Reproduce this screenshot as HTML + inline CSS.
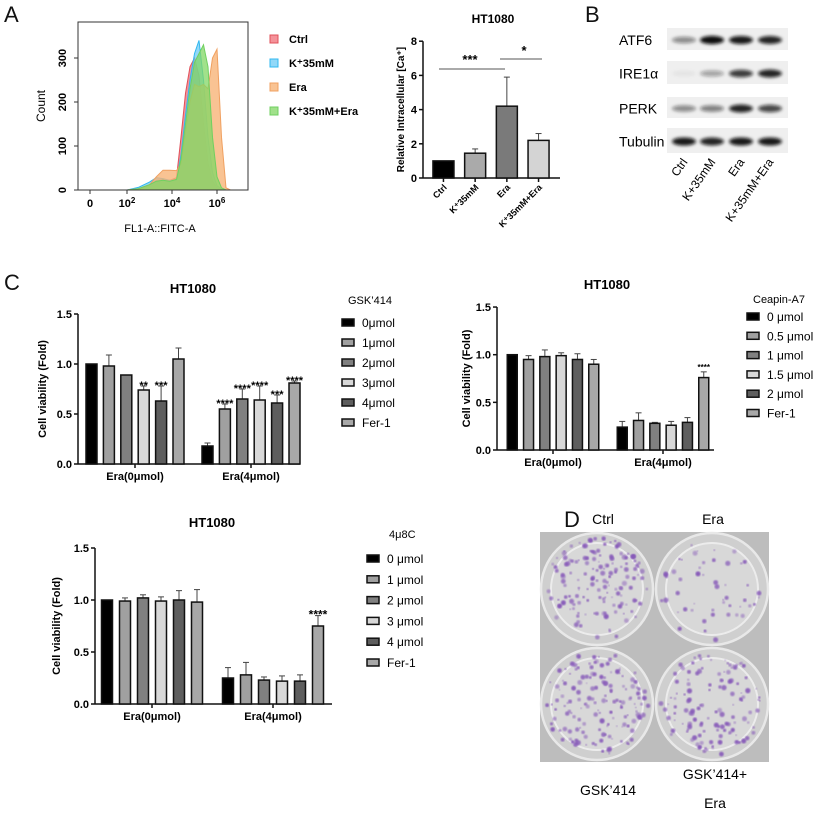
<!DOCTYPE html>
<html><head><meta charset="utf-8"><style>
body{margin:0;background:#fff}
svg{display:block;font-family:"Liberation Sans",Arial,sans-serif}
</style></head><body>
<svg id="fig" width="819" height="817" viewBox="0 0 819 817" xmlns="http://www.w3.org/2000/svg">
<defs>
<filter id="blur1" x="-20%" y="-50%" width="140%" height="200%"><feGaussianBlur stdDeviation="1.6"/></filter>
<filter id="blur2"><feGaussianBlur stdDeviation="0.8"/></filter>
</defs>
<g id="panelLabels" font-size="22" fill="#111">
<text x="4" y="22">A</text>
<text x="585" y="22">B</text>
<text x="4" y="290">C</text>
<text x="564" y="527">D</text>
</g>
<g id="flow"></g>
<g id="caBar"></g>
<g id="blot"></g>
<g id="c1"></g>
<g id="c2"></g>
<g id="c3"></g>
<g id="colony"></g>
</svg>
<script>
// ---- Flow histogram data ----
const flowDecades = [1,2,2.5,3,3.3,3.6,3.9,4.2,4.4,4.6,4.8,5.0,5.2,5.4,5.6,5.8,6.0,6.2,6.4,6.6,7];
const flowCtrl  = [0,0,3,12,22,24,22,28,120,220,280,300,260,150,60,20,5,0,0,0,0];
const flowK35   = [0,0,6,18,28,26,22,22,80,170,250,310,340,250,120,40,10,2,0,0,0];
const flowEra   = [0,0,3,12,30,45,45,44,60,130,200,240,235,240,230,300,320,120,5,0,0];
const flowCombo = [0,0,3,12,20,22,20,24,70,150,230,290,310,330,280,120,30,5,0,0,0];
const flowNames = ["Ctrl","K⁺35mM","Era","K⁺35mM+Era"];
const flowYTicks = [0,100,200,300];

// ---- Calcium bar data ----
const caCats = ["Ctrl","K⁺35mM","Era","K⁺35mM+Era"];
const caVals = [1.0,1.45,4.2,2.2];
const caErr  = [0,0.25,1.7,0.4];
const caTicks = [0,2,4,6,8];

// ---- C charts data ----
const groupLabels = ["Era(0μmol)","Era(4μmol)"];
const c1Legend = ["0μmol","1μmol","2μmol","3μmol","4μmol","Fer-1"];
const c1G0 = [1.0,0.98,0.89,0.74,0.63,1.05];
const c1G0Err = [0,0.11,0,0.04,0.15,0.11];
const c1G1 = [0.18,0.55,0.65,0.64,0.61,0.81];
const c1G1Err = [0.03,0.05,0.1,0.14,0.08,0.02];
const c1G0Stars = ["","","","**","***",""];
const c1G1Stars = ["","****","****","****","***","****"];

const c2Legend = ["0 μmol","0.5 μmol","1 μmol","1.5 μmol","2 μmol","Fer-1"];
const c2G0 = [1.0,0.95,0.98,0.99,0.95,0.9];
const c2G0Err = [0,0.04,0.07,0.03,0.06,0.05];
const c2G1 = [0.24,0.31,0.28,0.26,0.29,0.76];
const c2G1Err = [0.06,0.08,0.01,0.04,0.05,0.06];
const c2G1Stars = ["","","","","","****"];

const c3Legend = ["0 μmol","1 μmol","2 μmol","3 μmol","4 μmol","Fer-1"];
const c3G0 = [1.0,0.99,1.02,0.99,1.0,0.98];
const c3G0Err = [0,0.03,0.03,0.04,0.09,0.12];
const c3G1 = [0.25,0.28,0.23,0.22,0.22,0.75];
const c3G1Err = [0.1,0.12,0.03,0.05,0.06,0.1];
const c3G1Stars = ["","","","","","****"];
const viabTicks = [0.0,0.5,1.0,1.5];

const NS="http://www.w3.org/2000/svg";
function mk(tag, attrs, parent){const e=document.createElementNS(NS,tag);for(const k in attrs)e.setAttribute(k,attrs[k]);if(parent)parent.appendChild(e);return e;}
function txt(parent, x, y, s, attrs){const t=mk('text',Object.assign({x:x,y:y},attrs||{}),parent);t.textContent=s;return t;}

// ===== Flow histogram =====
(function(){
  const g=document.getElementById('flow');
  const X=d=>127+22.5*(d-2), Y=c=>190-c*0.44;
  const box=mk('rect',{x:78,y:22,width:170,height:168,fill:'none',stroke:'#333','stroke-width':1},g);
  
  
  const series=[[flowCtrl,'rgba(240,100,110,0.7)','#e0505a'],[flowK35,'rgba(100,200,245,0.7)','#30b8f0'],[flowEra,'rgba(248,180,120,0.8)','#f0a060'],[flowCombo,'rgba(130,215,100,0.75)','#70d060']];
  series.forEach((s,si)=>{
    let d='M'+X(flowDecades[0])+','+Y(0);
    flowDecades.forEach((v,i)=>{d+=' L'+X(v).toFixed(1)+','+Y(s[0][i]).toFixed(1);});
    d+=' L'+X(flowDecades[flowDecades.length-1])+','+Y(0)+'Z';
    const p=mk('path',{d:d,fill:s[1],stroke:s[2],'stroke-width':1},g);
    
    
  });
  mk('line',{x1:78,y1:190,x2:248,y2:190,stroke:'#333'},g);
  flowYTicks.forEach(v=>{
    mk('line',{x1:74,y1:Y(v),x2:78,y2:Y(v),stroke:'#333'},g);
    const t=txt(g,66,Y(v),String(v),{'font-size':11,'font-weight':'bold','text-anchor':'middle',transform:'rotate(-90 66 '+Y(v)+')'});
    
    
  });
  [[90,'0',''],[127,'10','2'],[172,'10','4'],[217,'10','6']].forEach(a=>{
    mk('line',{x1:a[0],y1:190,x2:a[0],y2:194,stroke:'#333'},g);
    const t=txt(g,a[0],207,a[1],{'font-size':11,'font-weight':'bold','text-anchor':'middle'});
    if(a[2]){const ts=mk('tspan',{'font-size':8,dy:-4},t);ts.textContent=a[2];}
    
    
  });
  const xt=txt(g,160,232,'FL1-A::FITC-A',{'font-size':11,'text-anchor':'middle'});
  
  
  const yt=txt(g,45,106,'Count',{'font-size':12,'text-anchor':'middle',transform:'rotate(-90 45 106)'});
  
  
  flowNames.forEach((n,i)=>{
    const y=41+i*24;
    const r=mk('rect',{x:270,y:y-6,width:8,height:8,fill:series[i][1],stroke:series[i][2]},g);
    
    
    const t=txt(g,289,y+2,n,{'font-size':11,'font-weight':'bold'});
    
    
  });
})();

// ===== Generic bar chart =====
function barChart(cfg){
  const g=document.getElementById(cfg.id);
  const Y=v=>cfg.y0-(v-cfg.vmin)*cfg.scale;
  const yt=txt(g,cfg.titleX,cfg.titleY,'HT1080',{'font-size':cfg.titleSize||13,'font-weight':'bold','text-anchor':'middle'});
  
  
  mk('line',{x1:cfg.ax,y1:Y(cfg.ticks[cfg.ticks.length-1]),x2:cfg.ax,y2:cfg.y0,stroke:'#111','stroke-width':1.5},g);
  mk('line',{x1:cfg.ax,y1:cfg.y0,x2:cfg.axEnd,y2:cfg.y0,stroke:'#111','stroke-width':1.5},g);
  cfg.ticks.forEach(v=>{
    mk('line',{x1:cfg.ax-4,y1:Y(v),x2:cfg.ax,y2:Y(v),stroke:'#111','stroke-width':1.5},g);
    const t=txt(g,cfg.ax-6,Y(v)+4,cfg.tickFmt(v),{'font-size':11,'font-weight':'bold','text-anchor':'end'});
    
    
  });
  const my=(Y(cfg.ticks[cfg.ticks.length-1])+cfg.y0)/2;
  const ya=txt(g,cfg.yTitleX,my,cfg.yTitle,{'font-size':cfg.yTitleSize||11,'font-weight':'bold','text-anchor':'middle',transform:'rotate(-90 '+cfg.yTitleX+' '+my+')'});
  
  
  cfg.groups.forEach((grp,gi)=>{
    grp.vals.forEach((v,i)=>{
      const cx=grp.center+(i-(grp.vals.length-1)/2)*cfg.spacing;
      const top=Y(v), e=grp.err[i];
      if(e>0){
        mk('line',{x1:cx,y1:top,x2:cx,y2:Y(v+e),stroke:'#444','stroke-width':1},g);
        mk('line',{x1:cx-3,y1:Y(v+e),x2:cx+3,y2:Y(v+e),stroke:'#444','stroke-width':1},g);
      }
      const r=mk('rect',{x:cx-cfg.bw/2,y:top,width:cfg.bw,height:cfg.y0-top,fill:cfg.colors[i],stroke:'#111','stroke-width':1.5},g);
      
      
      if(grp.stars && grp.stars[i]){
        const s=txt(g,cx,Y(v+e)-3,grp.stars[i],{'font-size':cfg.starSize||13,'font-weight':'bold','text-anchor':'middle'});
        s.setAttribute('dy',cfg.starDy||6);
        
        
      }
    });
    if(grp.label){
      mk('line',{x1:grp.center,y1:cfg.y0,x2:grp.center,y2:cfg.y0+4,stroke:'#111','stroke-width':1.5},g);
      const t=txt(g,grp.center,cfg.y0+16,grp.label,{'font-size':11,'font-weight':'bold','text-anchor':'middle'});
      
      
    }
  });
  if(cfg.legend){
    const lt=txt(g,cfg.legX+cfg.legTitleDx,cfg.legTitleY,cfg.legTitle,{'font-size':11});
    
    
    cfg.legend.forEach((n,i)=>{
      const y=cfg.legY+i*cfg.legStep;
      const r=mk('rect',{x:cfg.legX,y:y-4,width:12,height:7,fill:cfg.colors[i],stroke:'#111','stroke-width':1.5},g);
      
      
      const t=txt(g,cfg.legX+20,y+4,n,{'font-size':12});
      
      
    });
  }
}
const grays=['#000','#a0a0a0','#808080','#d8d8d8','#5e5e5e','#a8a8a8'];
const fmt1=v=>v.toFixed(1);

// Calcium chart
(function(){
  const g=document.getElementById('caBar');
  const cfg={id:'caBar',titleX:493,titleY:23,titleSize:12,ax:423,axEnd:560,y0:178,vmin:0,scale:17.1,ticks:caTicks,tickFmt:v=>String(v),
    yTitle:'Relative Intracellular [Ca⁺]',yTitleX:404,yTitleSize:10,spacing:31.7,bw:21,colors:['#000','#aaa','#7a7a7a','#d4d4d4'],
    groups:[{center:491,vals:caVals,err:caErr}]};
  barChart(cfg);
  caCats.forEach((c,i)=>{
    const cx=491+(i-1.5)*31.7;
    mk('line',{x1:cx,y1:178,x2:cx,y2:182,stroke:'#111','stroke-width':1.5},g);
    const t=txt(g,cx+4,188,c,{'font-size':9,'font-weight':'bold','text-anchor':'end',transform:'rotate(-45 '+(cx+4)+' 188)'});
    
    
  });
  mk('line',{x1:439,y1:69,x2:505,y2:69,stroke:'#555'},g);
  mk('line',{x1:500,y1:59,x2:542,y2:59,stroke:'#555'},g);
  const s1=txt(g,470,64,'***',{'font-size':13,'font-weight':'bold','text-anchor':'middle'});
  
  
  const s2=txt(g,524,55,'*',{'font-size':13,'font-weight':'bold','text-anchor':'middle'});
  
  
})();

barChart({id:'c1',titleX:193,titleY:293,ax:78,axEnd:300,y0:464,vmin:0,scale:100,ticks:viabTicks,tickFmt:fmt1,yTitle:'Cell viability (Fold)',yTitleX:46,
  spacing:17.4,bw:11,colors:grays,starSize:11,
  groups:[{center:135,vals:c1G0,err:c1G0Err,stars:c1G0Stars,label:groupLabels[0]},{center:251,vals:c1G1,err:c1G1Err,stars:c1G1Stars,label:groupLabels[1]}],
  legend:c1Legend,legTitle:'GSK’414',legTitleDx:6,legTitleY:304,legX:342,legY:323,legStep:20});
barChart({id:'c2',titleX:607,titleY:289,ax:497,axEnd:714,y0:450,vmin:0,scale:95.3,ticks:viabTicks,tickFmt:fmt1,yTitle:'Cell viability (Fold)',yTitleX:470,
  spacing:16.3,bw:10,colors:grays,starSize:8,starDy:1,
  groups:[{center:553,vals:c2G0,err:c2G0Err,label:groupLabels[0]},{center:663,vals:c2G1,err:c2G1Err,stars:c2G1Stars,label:groupLabels[1]}],
  legend:c2Legend,legTitle:'Ceapin-A7',legTitleDx:6,legTitleY:303,legX:747,legY:317,legStep:19.3});
barChart({id:'c3',titleX:212,titleY:527,ax:95,axEnd:332,y0:704,vmin:0,scale:104,ticks:viabTicks,tickFmt:fmt1,yTitle:'Cell viability (Fold)',yTitleX:60,
  spacing:18,bw:11,colors:grays,starSize:12,
  groups:[{center:152,vals:c3G0,err:c3G0Err,label:groupLabels[0]},{center:273,vals:c3G1,err:c3G1Err,stars:c3G1Stars,label:groupLabels[1]}],
  legend:c3Legend,legTitle:'4μ8C',legTitleDx:22,legTitleY:538,legX:367,legY:559,legStep:20.8});

// ===== Western blot =====
(function(){
  const g=document.getElementById('blot');
  const rows=[['ATF6',28,50,[0.45,1,0.95,0.9]],['IRE1α',61,84,[0.05,0.35,0.8,0.9]],['PERK',97,118,[0.45,0.5,0.9,0.75]],['Tubulin',128,153,[0.95,0.9,0.95,0.95]]];
  const lanes=[684,712,741,770];
  rows.forEach(r=>{
    const s=mk('rect',{x:667,y:r[1],width:121,height:r[2]-r[1],fill:'#efefef'},g);
    
    
    const cy=(r[1]+r[2])/2+1;
    lanes.forEach((lx,i)=>{
      const a=r[3][i];
      if(a>0.02){
        const e=mk('ellipse',{cx:lx,cy:cy,rx:12,ry:2.5+a*1.6,fill:'#111','fill-opacity':a,filter:'url(#blur1)'},g);
        
        
      }
    });
    const t=txt(g,619,cy+5,r[0],{'font-size':14});
    
    
  });
  ['Ctrl','K+35mM','Era','K+35mM+Era'].forEach((n,i)=>{
    const x=lanes[i]+4,y=162;
    const t=txt(g,x,y,n,{'font-size':12,'text-anchor':'end',transform:'rotate(-55 '+x+' '+y+')'});
    
    
  });
})();

// ===== Colony plates =====
(function(){
  const g=document.getElementById('colony');
  const bg=mk('rect',{x:540,y:532,width:229,height:230,fill:'#bdbdbd'},g);
  
  
  let seed=7;const rnd=()=>{seed=(seed*16807)%2147483647;return seed/2147483647;};
  const wells=[[597,589,0.9],[712,589,0.3],[597,704,0.9],[712,704,0.75]];
  wells.forEach((w,wi)=>{
    const c=mk('circle',{cx:w[0],cy:w[1],r:56,fill:'#cfcfcf',stroke:'#e8e8e8','stroke-width':2.5},g);
    
    
    mk('circle',{cx:w[0],cy:w[1],r:46,fill:'#d8d8d8',stroke:'#ececec','stroke-width':2},g);
    const n=Math.round(170*w[2]);
    for(let k=0;k<n;k++){
      const a=rnd()*6.283, rr=Math.sqrt(rnd())*52;
      mk('circle',{cx:(w[0]+Math.cos(a)*rr).toFixed(1),cy:(w[1]+Math.sin(a)*rr).toFixed(1),r:(0.8+rnd()*1.8).toFixed(1),fill:'#8557b8','fill-opacity':(0.45+rnd()*0.5).toFixed(2),filter:'url(#blur2)'},g);
    }
  });
  [['Ctrl',603,524],['Era',713,524],['GSK’414',608,795],['GSK’414+',715,779],['Era',715,808]].forEach(a=>{
    const t=txt(g,a[1],a[2],a[0],{'font-size':14,'text-anchor':'middle'});
    
    
  });
})();
</script>
</body></html>
